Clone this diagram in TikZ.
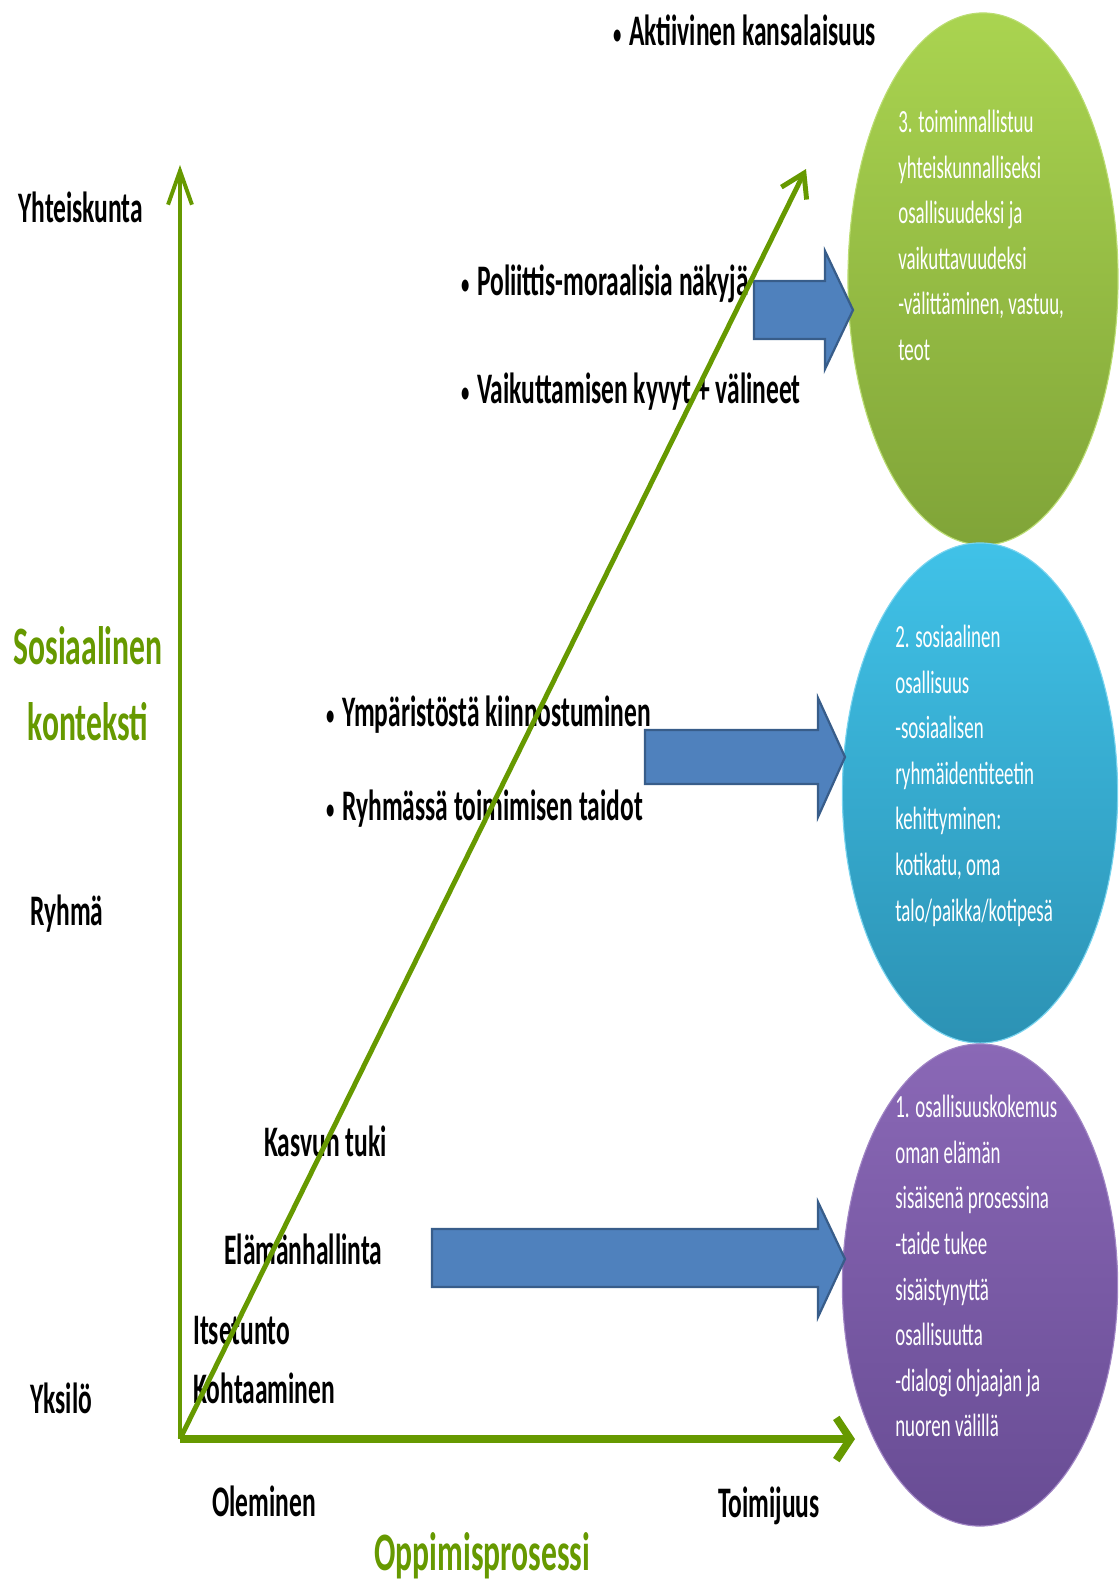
\documentclass[tikz,border=0pt]{standalone}
\usepackage{fontspec}
\setmainfont{Carlito}[FakeStretch=0.585]
\usetikzlibrary{arrows.meta,shapes.geometric}
\definecolor{axgreen}{RGB}{102,153,0}
\definecolor{barrow}{RGB}{79,129,189}
\definecolor{barrowd}{RGB}{56,93,138}
\definecolor{gtop}{RGB}{170,212,80}
\definecolor{gbot}{RGB}{128,164,56}
\definecolor{btop}{RGB}{64,194,232}
\definecolor{bbot}{RGB}{44,146,180}
\definecolor{ptop}{RGB}{138,104,182}
\definecolor{pbot}{RGB}{104,76,148}
\newcommand\bul{{\mdseries\fontsize{24}{24}\selectfont\textbullet}\hspace{5pt}}
\begin{document}
\begin{tikzpicture}[x=0.025cm,y=-0.025cm,
  lbl/.style={font=\bfseries\fontsize{31}{36}\selectfont, anchor=base west, inner sep=0},
  glbl/.style={font=\bfseries\fontsize{38.5}{44}\selectfont, text=axgreen, inner sep=0},
  etext/.style={font=\fontsize{23}{32.4}\selectfont, text=white, align=left, anchor=north west, inner sep=0},
  bubble/.style={ellipse, inner sep=0, line width=0.8pt},
  blockarrow/.style={fill=barrow, draw=barrowd, line width=1.6pt, line join=miter},
  axis/.style={draw=axgreen}
]
\useasboundingbox (0,0) rectangle (1119,1587);

% bubbles
\node[bubble, top color=gtop, bottom color=gbot, draw=gtop!80!white, minimum width=6.75cm, minimum height=13.3cm] (e3) at (983,279) {};
\node[bubble, top color=btop, bottom color=bbot, draw=btop!70!white, minimum width=6.88cm, minimum height=12.5cm] (e2) at (980,793) {};
\node[bubble, top color=ptop, bottom color=pbot, draw=ptop!80!white, minimum width=6.88cm, minimum height=12.05cm] (e1) at (980,1285) {};

\node[etext] (t3) at (898,110) {3. toiminnallistuu\\yhteiskunnalliseksi\\osallisuudeksi ja\\vaikuttavuudeksi\\-välittäminen, vastuu,\\teot};
\node[etext] (t2) at (895,625) {2. sosiaalinen\\osallisuus\\-sosiaalisen\\ryhmäidentiteetin\\kehittyminen:\\kotikatu, oma\\talo/paikka/kotipesä};
\node[etext] (t1) at (895,1095) {1. osallisuuskokemus\\oman elämän\\sisäisenä prosessina\\-taide tukee\\sisäistynyttä\\osallisuutta\\-dialogi ohjaajan ja\\nuoren välillä};

% block arrows
\draw[blockarrow] (754,281) -- (825,281) -- (825,251) -- (853,310) -- (825,369) -- (825,339) -- (754,339) -- cycle;
\draw[blockarrow] (645,730) -- (818,730) -- (818,698) -- (845,757) -- (818,817) -- (818,784) -- (645,784) -- cycle;
\draw[blockarrow] (432,1229) -- (818,1229) -- (818,1202) -- (845,1259) -- (818,1317) -- (818,1287) -- (432,1287) -- cycle;

% texts
\node[lbl] (akt) at (612,45) {\bul Aktiivinen kansalaisuus};
\node[lbl] (yht) at (18,222) {Yhteiskunta};
\node[lbl] (pol) at (460,295) {\bul Poliittis-moraalisia näkyjä};
\node[lbl] (vai) at (460,403) {\bul Vaikuttamisen kyvyt + välineet};
\node[glbl, anchor=base] (sos) at (88,664) {Sosiaalinen};
\node[glbl, anchor=base] (kon) at (88,740) {konteksti};
\node[lbl] (ymp) at (325,726) {\bul Ympäristöstä kiinnostuminen};
\node[lbl] (ryt) at (325,820) {\bul Ryhmässä toimimisen taidot};
\node[lbl] (ryh) at (30,925) {Ryhmä};
\node[lbl] (kas) at (264,1156) {Kasvun tuki};
\node[lbl] (ela) at (224,1264) {Elämänhallinta};
\node[lbl] (its) at (193,1344) {Itsetunto};
\node[lbl] (koh) at (193,1403) {Kohtaaminen};
\node[lbl] (yks) at (30,1413) {Yksilö};
\node[lbl] (ole) at (212,1516) {Oleminen};
\node[lbl] (toi) at (718,1517) {Toimijuus};
\node[glbl, anchor=base west] (opp) at (374,1570) {Oppimisprosessi};

% axes
\coordinate (O) at (180,1439);
\coordinate (ytop) at (180,165);
\coordinate (xend) at (855,1439);
\coordinate (dend) at (806,169);
\draw[axis, line width=2.8pt, -{Straight Barb[length=24pt,width=17pt]}] (O) -- (ytop);
\draw[axis, line width=5.5pt, -{Straight Barb[length=10pt,width=30pt]}] (O) -- (xend);
\draw[axis, line width=3.5pt, -{Straight Barb[length=16pt,width=20pt]}] (O) -- (dend);
\end{tikzpicture}
\end{document}
